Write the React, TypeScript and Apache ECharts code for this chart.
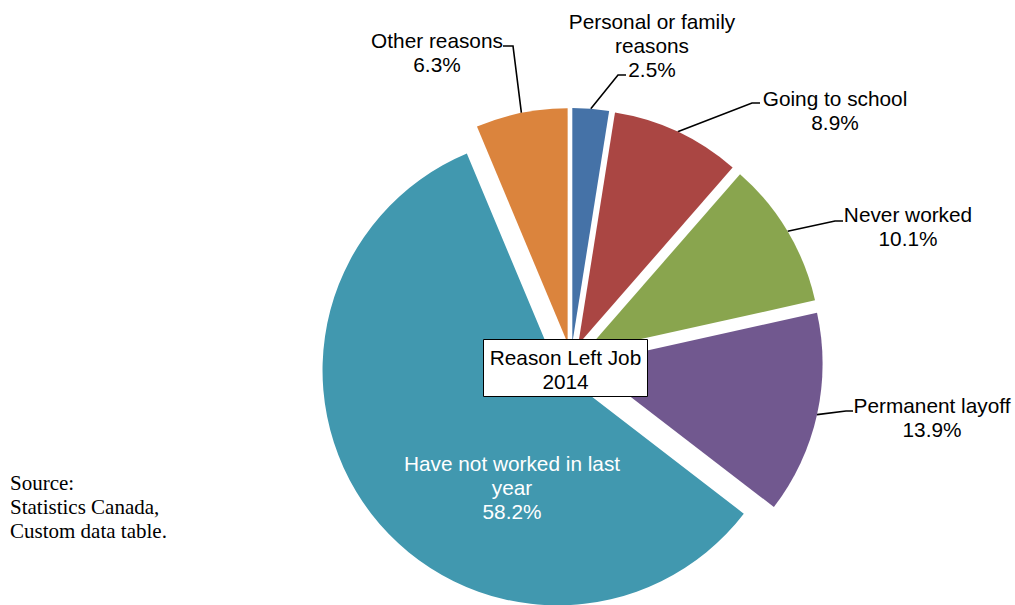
import React, { useEffect, useRef } from 'react';
import * as echarts from 'echarts';

// ---- data ----
const categories = [
  'Personal or family\nreasons',
  'Going to school',
  'Never worked',
  'Permanent layoff',
  'Have not worked in last\nyear',
  'Other reasons',
];
const values = [2.5, 8.9, 10.1, 13.9, 58.2, 6.3];
const chartTitle = ['Reason Left Job', '2014'];
const sourceNote = ['Source:', 'Statistics Canada,', 'Custom data table.'];

// ---- styles / layout ----
const colors = ['#4572A7', '#AA4643', '#89A54E', '#71588F', '#4198AF', '#DB843D'];
const SANS = '"Liberation Sans", Arial, sans-serif';
const SERIF = '"Liberation Serif", "Times New Roman", serif';
const FONT_SIZE = 20.8;
const EXPLODE = 17;
const CENTER = [571, 360];
const RADIUS = 235;
// label centre and leader-line end (relative to label centre) + elbow length
const labelPlacement = [
  { x: 652, y: 45, guide: [-26, 30, -8] },
  { x: 835, y: 110, guide: [-75, -7, -8] },
  { x: 908, y: 226, guide: [-65, -5, -8] },
  { x: 932, y: 417, guide: [-79, -6, -7] },
  { x: 512, y: 487, guide: null },
  { x: 437, y: 52, guide: [66, -6, 10] },
];

const total = values.reduce((a, b) => a + b, 0);
const offsets: number[][] = [];
{
  let acc = 0;
  values.forEach((v) => {
    const mid = ((acc + v / 2) / total) * Math.PI * 2;
    offsets.push([Math.sin(mid) * EXPLODE, -Math.cos(mid) * EXPLODE]);
    acc += v;
  });
}

export default function App() {
  const ref = useRef<HTMLDivElement>(null);
  useEffect(() => {
    if (!ref.current) return;
    const chart = echarts.init(ref.current, undefined, { renderer: 'svg' });
    const sliceData = categories.map((name, i) => ({
      name,
      value: values[i],
      selected: true,
      itemStyle: { color: colors[i] },
    }));
    const labelData = categories.map((name, i) => {
      const inside = labelPlacement[i].guide === null;
      return {
        name,
        value: values[i],
        label: { color: inside ? '#ffffff' : '#000000' },
        labelLine: { show: !inside },
      };
    });
    chart.setOption({
      animation: false,
      backgroundColor: '#ffffff',
      series: [
        {
          type: 'pie',
          center: CENTER,
          radius: [0, RADIUS],
          startAngle: 90,
          clockwise: true,
          selectedMode: 'multiple',
          selectedOffset: EXPLODE,
          silent: true,
          itemStyle: { borderWidth: 0 },
          emphasis: { disabled: true },
          label: { show: false },
          labelLine: { show: false },
          data: sliceData,
        },
        {
          type: 'pie',
          center: CENTER,
          radius: [0, RADIUS],
          startAngle: 90,
          clockwise: true,
          silent: true,
          avoidLabelOverlap: false,
          itemStyle: { color: 'rgba(0,0,0,0)', borderWidth: 0 },
          emphasis: { disabled: true },
          label: {
            show: true,
            position: 'outside',
            formatter: (p: any) => `${p.name}\n${p.value}%`,
            fontFamily: SANS,
            fontSize: FONT_SIZE,
            lineHeight: 24,
            align: 'center',
          },
          labelLine: {
            show: true,
            length: 20,
            length2: 10,
            lineStyle: { color: '#000000', width: 1.6 },
          },
          labelLayout: (params: any) => {
            const i = params.dataIndex;
            const p = labelPlacement[i];
            const res: any = { x: p.x, y: p.y, align: 'center', verticalAlign: 'middle' };
            const pts = params.labelLinePoints;
            if (p.guide && pts && pts.length) {
              const [ox, oy] = offsets[i];
              const end = [p.x + p.guide[0], p.y + p.guide[1]];
              const elbow = [end[0] + p.guide[2], end[1]];
              res.labelLinePoints = [[pts[0][0] + ox, pts[0][1] + oy], elbow, end];
            }
            return res;
          },
          data: labelData,
        },
      ],
      graphic: [
        {
          type: 'rect',
          z: 100,
          shape: { x: 483.5, y: 339.5, width: 164, height: 57 },
          style: { fill: '#ffffff', stroke: '#000000', lineWidth: 1 },
        },
        {
          type: 'text',
          z: 101,
          x: 565.5,
          y: 369,
          style: {
            text: chartTitle.join('\n'),
            fontFamily: SANS,
            fontSize: FONT_SIZE,
            lineHeight: 24,
            fill: '#000000',
            align: 'center',
            verticalAlign: 'middle',
          },
        },
        {
          type: 'text',
          z: 101,
          x: 10,
          y: 507,
          style: {
            text: sourceNote.join('\n'),
            fontFamily: SERIF,
            fontSize: 21,
            lineHeight: 24,
            fill: '#000000',
            align: 'left',
            verticalAlign: 'middle',
          },
        },
      ],
    });
    return () => chart.dispose();
  }, []);
  return (
    <div
      ref={ref}
      style={{ position: 'fixed', left: 0, top: 0, width: 1015, height: 605, background: '#fff' }}
    />
  );
}
